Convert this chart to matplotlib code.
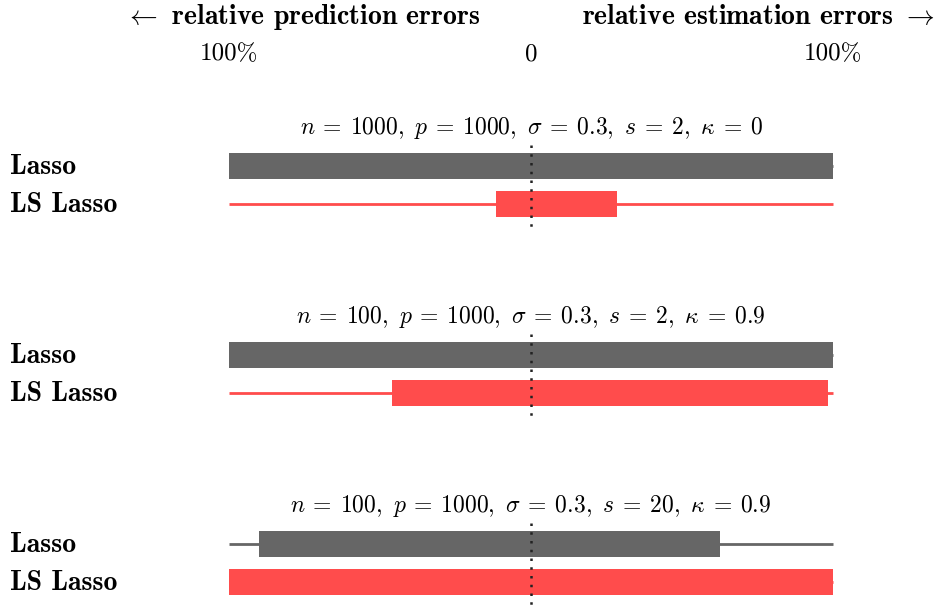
import numpy as np
import matplotlib.pyplot as plt

plt.rcParams['mathtext.fontset'] = 'cm'
plt.rcParams['font.family'] = 'cmr10'
plt.rcParams['axes.formatter.use_mathtext'] = True

# panel titles
titles = [r"$n\:=\:1000,\ p\:=\:1000,\ \sigma\:=\:0.3,\ s\:=\:2,\ \kappa\:=\:0$",
          r"$n\:=\:100,\ p\:=\:1000,\ \sigma\:=\:0.3,\ s\:=\:2,\ \kappa\:=\:0.9$",
          r"$n\:=\:100,\ p\:=\:1000,\ \sigma\:=\:0.3,\ s\:=\:20,\ \kappa\:=\:0.9$"]
methods = ["Lasso", "LS Lasso"]
# relative prediction error (left, %) and relative estimation error (right, %)
pred_err = [[100, 11.6], [100, 46], [90, 100]]
est_err = [[100, 28.5], [100, 98.3], [62.6, 100]]

colors = ["#666666", "#ff4c4c"]

fig = plt.figure(figsize=(9.36, 6.08), dpi=100)
ax = fig.add_axes([0, 0, 1, 1])
# x in percent, y in pixels from top
ax.set_xlim(-100 - 229 / 3.02, 100 + 103 / 3.02)
ax.set_ylim(608, 0)
ax.axis("off")

panel_top = [166, 355, 544]
row_gap = 38
bar_h = 26

for k in range(3):
    y0 = panel_top[k]
    ax.text(0, y0 - 38, titles[k], ha="center", va="center", fontsize=17)
    for j in range(2):
        y = y0 + j * row_gap
        ax.plot([-100, 100], [y, y], color=colors[j], lw=2, zorder=1,
                solid_capstyle="butt")
        ax.barh(y, est_err[k][j] + pred_err[k][j], left=-pred_err[k][j],
                height=bar_h, color=colors[j], zorder=2)
        ax.text(-175.8 + 10 / 3.02, y + 1, methods[j], ha="left", va="center",
                fontsize=20, family="cmb10")
    ax.plot([0, 0], [y0 - 21, y0 + row_gap + 24], color="#222222", lw=1.8,
            ls=(0, (1, 2.5)), zorder=3)

ax.text(-75.5, 17, r"$\leftarrow$ relative prediction errors", ha="center",
        va="center", fontsize=20, family="cmb10")
ax.text(75.2, 17, r"relative estimation errors $\rightarrow$", ha="center",
        va="center", fontsize=20, family="cmb10")
for xv, lab in [(-100, "100%"), (0, "0"), (100, "100%")]:
    ax.text(xv, 54, lab, ha="center", va="center", fontsize=18)

fig.savefig("out.png", dpi=100)
